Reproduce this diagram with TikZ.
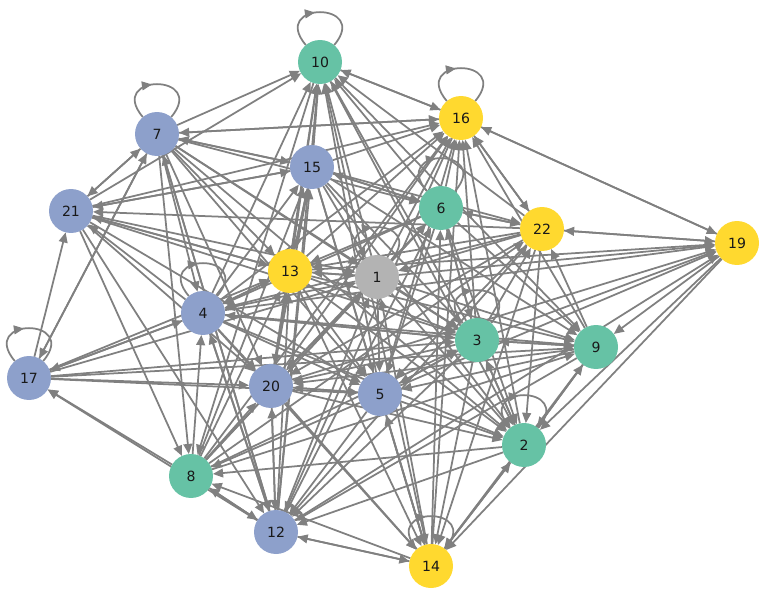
\documentclass[tikz,border=0pt]{standalone}
\usepackage{fontspec}
\setmainfont{DejaVu Sans}
\usetikzlibrary{arrows.meta,decorations.markings}
\definecolor{gBlue}{HTML}{8DA0CB}
\definecolor{gGreen}{HTML}{66C2A5}
\definecolor{gYellow}{HTML}{FFD92F}
\definecolor{gGrey}{HTML}{B3B3B3}
\definecolor{eGray}{HTML}{808080}
\pgfdeclarelayer{bg}
\pgfsetlayers{bg,main}
\tikzset{
  vtx/.style={circle, minimum size=0.88cm, inner sep=0pt, outer sep=0pt,
    font=\fontsize{8}{9}\selectfont, text=black!90},
  bluevtx/.style={vtx, fill=gBlue},
  greenvtx/.style={vtx, fill=gGreen},
  yellowvtx/.style={vtx, fill=gYellow},
  greyvtx/.style={vtx, fill=gGrey},
  link/.style={draw=eGray, line width=1pt, -{Triangle[length=5.8pt,width=5pt]}},
  selfloop/.style={draw, color=eGray, line width=1pt, postaction={decorate},
    decoration={markings, mark=at position 0.45 with {\arrow{Triangle[length=5.8pt,width=5pt]}}}},
}

\begin{document}
\begin{tikzpicture}[x=0.02cm, y=-0.02cm]
  \useasboundingbox (0,0) rectangle (767,598);
  % vertices
  \node[greenvtx]  (n10) at (320,62)  {10};
  \node[yellowvtx] (n16) at (461,118) {16};
  \node[bluevtx]   (n7)  at (157,134) {7};
  \node[bluevtx]   (n15) at (312,167) {15};
  \node[bluevtx]   (n21) at (71,211)  {21};
  \node[greenvtx]  (n6)  at (441,208) {6};
  \node[yellowvtx] (n22) at (542,229) {22};
  \node[yellowvtx] (n19) at (737,243) {19};
  \node[yellowvtx] (n13) at (290,271) {13};
  \node[greyvtx]   (n1)  at (377,277) {1};
  \node[bluevtx]   (n4)  at (203,313) {4};
  \node[greenvtx]  (n3)  at (477,340) {3};
  \node[greenvtx]  (n9)  at (596,347) {9};
  \node[bluevtx]   (n17) at (29,378)  {17};
  \node[bluevtx]   (n20) at (271,386) {20};
  \node[bluevtx]   (n5)  at (380,394) {5};
  \node[greenvtx]  (n2)  at (524,445) {2};
  \node[greenvtx]  (n8)  at (191,476) {8};
  \node[bluevtx]   (n12) at (276,532) {12};
  \node[yellowvtx] (n14) at (431,566) {14};
  % connectors
  \begin{pgfonlayer}{bg}
    \foreach \v in {10,16,7,4,17,2,14,6,1,3}
      \draw[selfloop] (n\v) to[out=130, in=50, distance=1.15cm] (n\v);
    \foreach \s/\t in {
      7/10, 7/16, 16/7, 7/15, 15/7, 7/21, 21/7, 7/17, 17/7, 7/4, 7/8, 7/12, 7/20, 7/13, 7/5, 7/3, 7/1, 7/2, 7/6, 12/7,
      21/10, 21/15, 15/21, 21/16, 22/21, 21/13, 13/21, 21/1, 21/3, 21/5, 21/20, 4/21, 21/12, 17/21, 21/8,
      17/4, 4/17, 17/13, 17/20, 17/5, 17/3, 17/9, 8/17, 12/17, 17/1,
      10/16, 16/10, 15/10, 13/10, 4/10, 20/10, 5/10, 3/10, 10/2, 10/14, 6/10, 1/10, 12/10, 10/8, 10/9, 22/10,
      15/16, 6/16, 16/22, 22/16, 3/16, 9/16, 2/16, 14/16, 5/16, 1/16, 13/16, 4/16, 20/16, 19/16, 16/19, 16/12, 8/16,
      15/13, 13/15, 15/6, 6/15, 15/22, 15/1, 15/3, 15/9, 15/2, 15/5, 4/15, 20/15, 12/15, 15/14, 8/15,
      6/22, 22/6, 6/13, 6/4, 6/20, 6/5, 6/3, 3/6, 6/2, 6/9, 14/6, 12/6, 1/6, 8/6,
      19/22, 22/19, 22/13, 22/1, 22/4, 22/20, 22/5, 3/22, 9/22, 22/2, 22/14, 12/22, 8/22,
      19/9, 19/2, 19/14, 13/19, 1/19, 4/19, 20/19, 5/19, 12/19, 3/19,
      13/1, 1/13, 13/4, 4/13, 13/20, 20/13, 13/5, 13/3, 13/9, 13/2, 13/14, 12/13, 8/13,
      1/4, 1/20, 1/5, 1/3, 1/9, 1/2, 14/1, 12/1, 8/1,
      4/20, 4/5, 4/3, 3/4, 4/9, 4/12, 12/4, 8/4, 4/14, 4/2,
      3/9, 9/3, 3/20, 3/5, 5/3, 3/2, 2/3, 3/14, 3/12, 8/3,
      9/20, 9/5, 9/2, 2/9, 9/14, 9/12, 8/9,
      20/5, 5/20, 8/20, 12/20, 20/12, 20/14, 20/2,
      5/2, 5/14, 14/5, 5/12, 5/8,
      2/14, 14/2, 2/12, 2/8,
      8/12, 12/8, 14/8,
      12/14, 14/12}
      \draw[link] (n\s) -- (n\t);
  \end{pgfonlayer}
\end{tikzpicture}
\end{document}
